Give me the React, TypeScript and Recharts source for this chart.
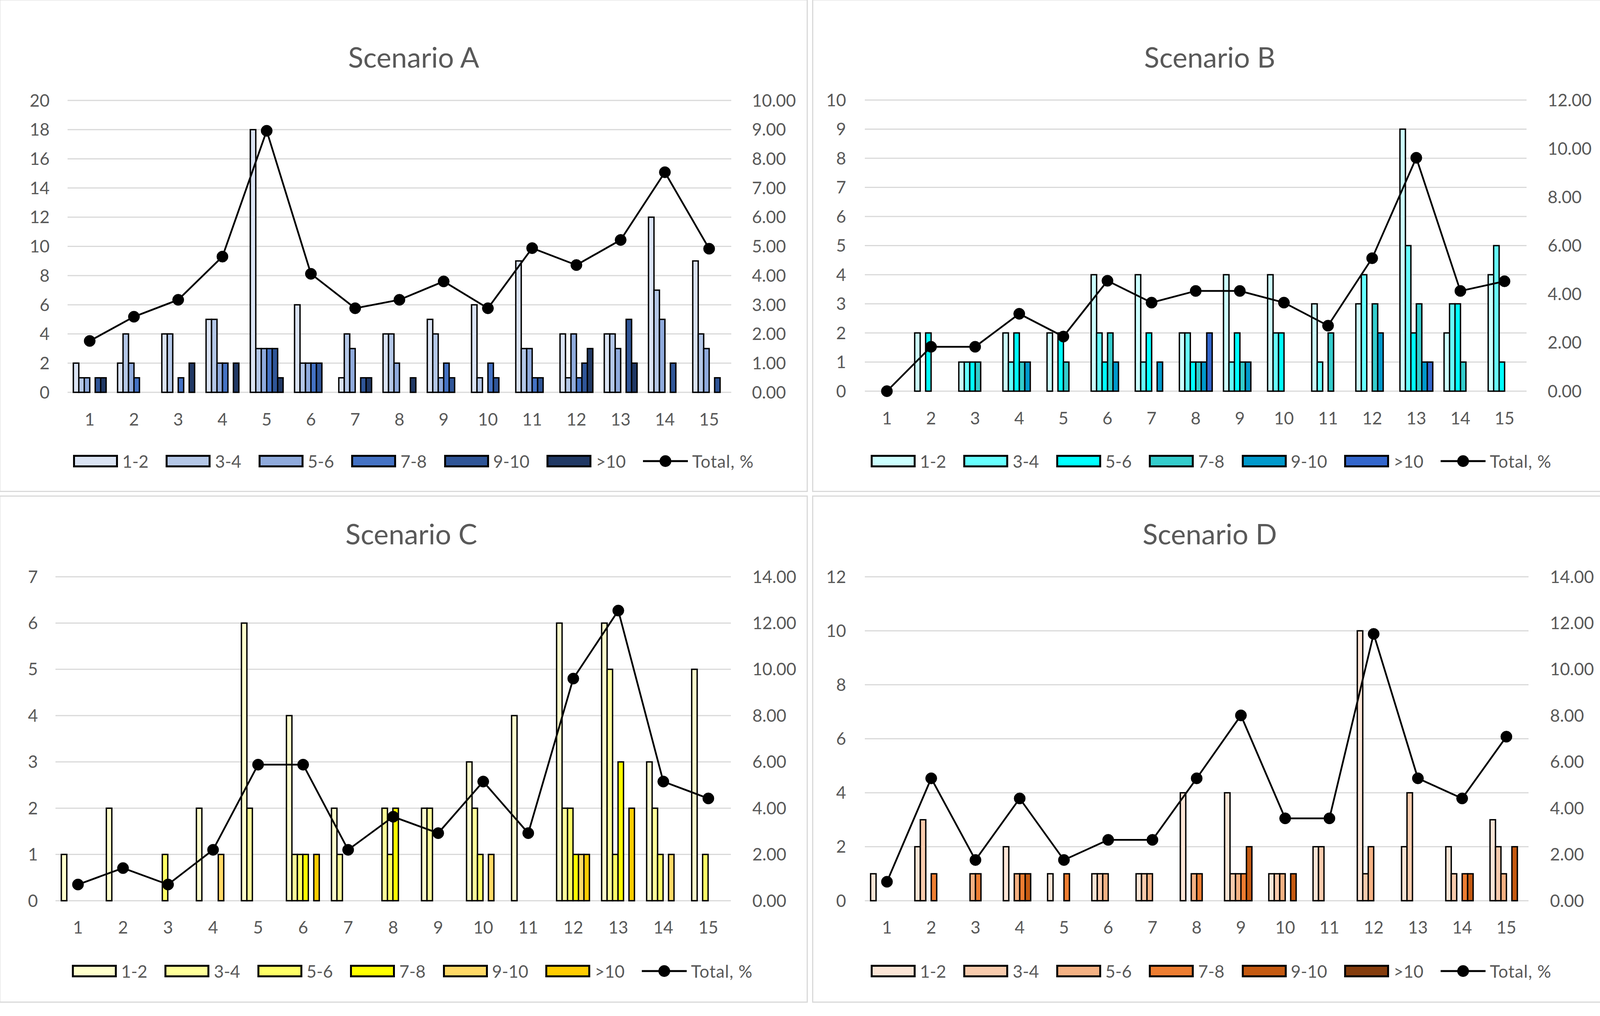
import React from 'react';
import { ComposedChart, Bar, Line, XAxis, YAxis, CartesianGrid } from 'recharts';

// ---------- DATA ----------
const categories = ['1', '2', '3', '4', '5', '6', '7', '8', '9', '10', '11', '12', '13', '14', '15'];
const binLabels = ['1-2', '3-4', '5-6', '7-8', '9-10', '>10'];
const totalLabel = 'Total, %';

// Scenario A (rows: 1-2, 3-4, 5-6, 7-8, 9-10, >10)
const binsA = [
  [2, 2, 4, 5, 18, 6, 1, 4, 5, 6, 9, 4, 4, 12, 9],
  [1, 4, 4, 5, 3, 2, 4, 4, 4, 1, 3, 1, 4, 7, 4],
  [1, 2, 0, 2, 3, 2, 3, 2, 1, 0, 3, 4, 3, 5, 3],
  [0, 1, 1, 2, 3, 2, 0, 0, 2, 2, 1, 1, 0, 0, 0],
  [1, 0, 0, 0, 3, 2, 1, 0, 1, 1, 1, 2, 5, 2, 1],
  [1, 0, 2, 2, 1, 0, 1, 1, 0, 0, 0, 3, 2, 0, 0],
];
const totalA = [1.76, 2.59, 3.17, 4.65, 8.96, 4.06, 2.88, 3.17, 3.8, 2.88, 4.94, 4.36, 5.22, 7.54, 4.92];

// Scenario B
const binsB = [
  [0, 2, 1, 2, 2, 4, 4, 2, 4, 4, 3, 3, 9, 2, 4],
  [0, 0, 1, 1, 0, 2, 1, 2, 1, 2, 1, 4, 5, 3, 5],
  [0, 2, 1, 2, 2, 1, 2, 1, 2, 2, 0, 0, 2, 3, 1],
  [0, 0, 1, 1, 1, 2, 0, 1, 1, 0, 2, 3, 3, 1, 0],
  [0, 0, 0, 1, 0, 1, 1, 1, 1, 0, 0, 2, 1, 0, 0],
  [0, 0, 0, 0, 0, 0, 0, 2, 0, 0, 0, 0, 1, 0, 0],
];
const totalB = [0, 1.83, 1.83, 3.19, 2.25, 4.55, 3.65, 4.13, 4.13, 3.65, 2.7, 5.48, 9.62, 4.13, 4.53];

// Scenario C
const binsC = [
  [1, 2, 0, 2, 6, 4, 2, 0, 2, 3, 4, 6, 6, 3, 5],
  [0, 0, 0, 0, 2, 1, 1, 2, 2, 2, 0, 2, 5, 2, 0],
  [0, 0, 1, 0, 0, 1, 0, 1, 0, 1, 0, 2, 1, 1, 1],
  [0, 0, 0, 0, 0, 1, 0, 2, 0, 0, 0, 1, 3, 0, 0],
  [0, 0, 0, 1, 0, 0, 0, 0, 0, 1, 0, 1, 0, 1, 0],
  [0, 0, 0, 0, 0, 1, 0, 0, 0, 0, 0, 1, 2, 0, 0],
];
const totalC = [0.7, 1.41, 0.7, 2.2, 5.88, 5.88, 2.2, 3.63, 2.92, 5.15, 2.92, 9.6, 12.54, 5.15, 4.42];

// Scenario D
const binsD = [
  [1, 2, 0, 2, 1, 1, 1, 4, 4, 1, 2, 10, 2, 2, 3],
  [0, 3, 0, 0, 0, 1, 1, 0, 1, 1, 2, 1, 4, 1, 2],
  [0, 0, 1, 1, 0, 1, 1, 1, 1, 1, 0, 2, 0, 0, 1],
  [0, 1, 1, 1, 1, 0, 0, 1, 1, 0, 0, 0, 0, 1, 0],
  [0, 0, 0, 1, 0, 0, 0, 0, 2, 1, 0, 0, 0, 1, 2],
  [0, 0, 0, 0, 0, 0, 0, 0, 0, 0, 0, 0, 0, 0, 0],
];
const totalD = [0.82, 5.29, 1.76, 4.42, 1.76, 2.63, 2.63, 5.29, 8.01, 3.56, 3.56, 11.53, 5.29, 4.42, 7.09];

// Axis ticks
const leftTicksA = [0, 2, 4, 6, 8, 10, 12, 14, 16, 18, 20];
const rightTicksA = [0, 1, 2, 3, 4, 5, 6, 7, 8, 9, 10];
const leftTicksB = [0, 1, 2, 3, 4, 5, 6, 7, 8, 9, 10];
const rightTicksB = [0, 2, 4, 6, 8, 10, 12];
const leftTicksC = [0, 1, 2, 3, 4, 5, 6, 7];
const rightTicksC = [0, 2, 4, 6, 8, 10, 12, 14];
const leftTicksD = [0, 2, 4, 6, 8, 10, 12];
const rightTicksD = [0, 2, 4, 6, 8, 10, 12, 14];

// ---------- STYLES ----------
const colorsA = ['#DAE3F3', '#B4C7E7', '#8FAADC', '#4472C4', '#2F5597', '#203864'];
const colorsB = ['#CCFFFF', '#66FFFF', '#00FFFF', '#33CCCC', '#0099CC', '#3366CC'];
const colorsC = ['#FFFFCC', '#FFFF99', '#FFFF66', '#FFFF00', '#FFD966', '#FFCC00'];
const colorsD = ['#FBE5D6', '#F8CBAD', '#F4B183', '#ED7D31', '#C55A11', '#843C0C'];

const FONT = 'Lato, "Open Sans", sans-serif';
const TEXT = '#595959';
const GRID = '#D9D9D9';

type Geo = {
  L: number; T: number; W: number; H: number; // chart box (page coords)
  px0: number; px1: number; py0: number; py1: number; // plot area
  leftGap: number; rightGap: number; xGap: number;
  titleX: number; titleY: number;
  legendX: number; legendY: number;
  box: { l: number; t: number; w: number; h: number };
};

const geoA: Geo = {
  L: 0, T: 0, W: 2070, H: 1260,
  px0: 173, px1: 1872, py0: 257, py1: 1004,
  leftGap: 46, rightGap: 53, xGap: 54,
  titleX: 1059, titleY: 145, legendX: 187, legendY: 1180,
  box: { l: -2, t: -2, w: 2070, h: 1261 },
};
const geoB: Geo = {
  L: 2075, T: 0, W: 2071, H: 1260,
  px0: 2214, px1: 3908, py0: 256, py1: 1001,
  leftGap: 48, rightGap: 54, xGap: 54,
  titleX: 3097, titleY: 145, legendX: 2229, legendY: 1180,
  box: { l: 2079, t: -2, w: 2030, h: 1261 },
};
const geoC: Geo = {
  L: 0, T: 1265, W: 2070, H: 1300,
  px0: 142, px1: 1871, py0: 1476, py1: 2305,
  leftGap: 45, rightGap: 55, xGap: 53,
  titleX: 1053, titleY: 1365, legendX: 184, legendY: 2485,
  box: { l: -2, t: 1268, w: 2070, h: 1298 },
};
const geoD: Geo = {
  L: 2075, T: 1265, W: 2071, H: 1300,
  px0: 2214, px1: 3913, py0: 1476, py1: 2305,
  leftGap: 48, rightGap: 55, xGap: 53,
  titleX: 3097, titleY: 1365, legendX: 2229, legendY: 2485,
  box: { l: 2079, t: 1268, w: 2030, h: 1298 },
};

const RIGHT_W = 150;
const XAXIS_H = 100;

function buildRows(bins: number[][], totals: number[]) {
  return categories.map((c, i) => {
    const row: Record<string, number | string> = { cat: c, total: totals[i] };
    bins.forEach((series, k) => {
      row['b' + k] = series[i];
    });
    return row;
  });
}

function LegendRow({ colors, x, y }: { colors: string[]; x: number; y: number }) {
  const txt: React.CSSProperties = {
    marginLeft: 11, fontSize: 44, color: TEXT, fontFamily: FONT, lineHeight: '44px', whiteSpace: 'nowrap',
  };
  return (
    <div style={{ position: 'absolute', left: x, top: y - 22, height: 44, display: 'flex', alignItems: 'center' }}>
      {binLabels.map((lab, k) => (
        <div key={lab} style={{ display: 'flex', alignItems: 'center', marginRight: 44 }}>
          <div style={{ width: 115, height: 32, boxSizing: 'border-box', border: '5px solid #000', background: colors[k] }} />
          <span style={txt}>{lab}</span>
        </div>
      ))}
      <div style={{ display: 'flex', alignItems: 'center' }}>
        <svg width={115} height={32}>
          <line x1={0} y1={16} x2={115} y2={16} stroke="#000" strokeWidth={5} />
          <circle cx={57.5} cy={16} r={15} fill="#000" />
        </svg>
        <span style={{ ...txt, letterSpacing: 1 }}>{totalLabel}</span>
      </div>
    </div>
  );
}

function Panel({ title, bins, totals, colors, leftTicks, rightTicks, geo }: {
  title: string; bins: number[][]; totals: number[]; colors: string[];
  leftTicks: number[]; rightTicks: number[]; geo: Geo;
}) {
  const data = buildRows(bins, totals);
  const leftW = geo.px0 - geo.L;
  const margin = {
    left: 0,
    top: geo.py0 - geo.T,
    right: geo.L + geo.W - geo.px1 - RIGHT_W,
    bottom: geo.T + geo.H - geo.py1 - XAXIS_H,
  };
  const tick = { fill: TEXT, fontSize: 44, fontFamily: FONT };
  return (
    <>
      <div style={{
        position: 'absolute', left: geo.box.l, top: geo.box.t, width: geo.box.w, height: geo.box.h,
        boxSizing: 'border-box', border: '3px solid ' + GRID,
      }} />
      <div style={{ position: 'absolute', left: geo.L, top: geo.T }}>
        <ComposedChart width={geo.W} height={geo.H} data={data} margin={margin} barGap={0} barCategoryGap="13%">
          <CartesianGrid yAxisId="left" vertical={false} stroke={GRID} strokeWidth={3} />
          <XAxis dataKey="cat" axisLine={false} tickLine={false} tickSize={0} tickMargin={geo.xGap} height={XAXIS_H} tick={tick} interval={0} />
          <YAxis yAxisId="left" orientation="left" width={leftW} domain={[leftTicks[0], leftTicks[leftTicks.length - 1]]}
            ticks={leftTicks} axisLine={false} tickLine={false} tickSize={0} tickMargin={geo.leftGap} tick={tick} interval={0} />
          <YAxis yAxisId="right" orientation="right" width={RIGHT_W} domain={[rightTicks[0], rightTicks[rightTicks.length - 1]]}
            ticks={rightTicks} axisLine={false} tickLine={false} tickSize={0} tickMargin={geo.rightGap} tick={tick} interval={0}
            tickFormatter={(v: number) => v.toFixed(2)} />
          {binLabels.map((lab, k) => (
            <Bar key={lab} yAxisId="left" dataKey={'b' + k} name={lab} fill={colors[k]} stroke="#000" strokeWidth={3.5}
              isAnimationActive={false} />
          ))}
          <Line yAxisId="right" dataKey="total" name={totalLabel} stroke="#000" strokeWidth={4.5}
            dot={{ r: 14.5, fill: '#000', stroke: '#000', strokeWidth: 1 }} activeDot={false} isAnimationActive={false} />
        </ComposedChart>
      </div>
      <div style={{
        position: 'absolute', left: geo.titleX - 400, top: geo.titleY - 45, width: 800, height: 90,
        textAlign: 'center', fontSize: 72, lineHeight: '90px', color: TEXT, fontFamily: FONT,
      }}>{title}</div>
      <LegendRow colors={colors} x={geo.legendX} y={geo.legendY} />
    </>
  );
}

export default function App() {
  return (
    <div style={{ position: 'absolute', left: 0, top: 0, width: 4146, height: 2600, background: '#fff', overflow: 'hidden' }}>
      <Panel title="Scenario A" bins={binsA} totals={totalA} colors={colorsA} leftTicks={leftTicksA} rightTicks={rightTicksA} geo={geoA} />
      <Panel title="Scenario B" bins={binsB} totals={totalB} colors={colorsB} leftTicks={leftTicksB} rightTicks={rightTicksB} geo={geoB} />
      <Panel title="Scenario C" bins={binsC} totals={totalC} colors={colorsC} leftTicks={leftTicksC} rightTicks={rightTicksC} geo={geoC} />
      <Panel title="Scenario D" bins={binsD} totals={totalD} colors={colorsD} leftTicks={leftTicksD} rightTicks={rightTicksD} geo={geoD} />
    </div>
  );
}
